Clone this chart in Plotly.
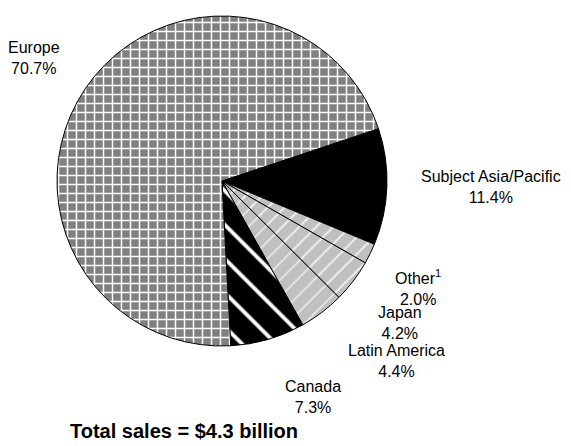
import plotly.graph_objects as go

# Sales share by region, in clockwise order starting after Europe
regions = ["Subject Asia/Pacific", "Other", "Japan", "Latin America", "Canada", "Europe"]
label_text = ["Subject Asia/Pacific", "Other<sup>1</sup>", "Japan", "Latin America", "Canada", "Europe"]
shares = [11.4, 2.0, 4.2, 4.4, 7.3, 70.7]
total_sales = "$4.3 billion"

# Fill styles per slice
bg_colors = ["#000000", "#c0c0c0", "#c0c0c0", "#c0c0c0", "#000000", "#808080"]
fg_colors = ["#000000", "#ffffff", "#ffffff", "#ffffff", "#ffffff", "#ffffff"]
shapes = ["", "/", "/", "/", "\\", "+"]
sizes = [8, 12, 12, 12, 24, 9]
solid = [0.3, 0.12, 0.12, 0.1, 0.16, 0.3]

W, H = 571, 446
cx, cy, r = 222, 181, 165

fig = go.Figure(go.Pie(
    labels=regions,
    values=shares,
    sort=False,
    direction="clockwise",
    rotation=71.5,
    textposition="none",
    hoverinfo="label+percent",
    marker=dict(
        colors=bg_colors,
        line=dict(color="#000000", width=1),
        pattern=dict(shape=shapes, bgcolor=bg_colors, fgcolor=fg_colors,
                     size=sizes, solidity=solid, fillmode="replace"),
    ),
    domain=dict(x=[(cx - r) / W, (cx + r) / W], y=[(H - cy - r) / H, (H - cy + r) / H]),
    showlegend=False,
))

# Outside labels: (x, y) centre of each label in pixels
label_pos = {
    "Subject Asia/Pacific": (491, 187),
    "Other": (418, 287),
    "Japan": (400, 323),
    "Latin America": (396, 361),
    "Canada": (313, 397),
    "Europe": (34, 58),
}
font = dict(family="Arial, Liberation Sans, sans-serif", size=16, color="#000000")
for name, txt, val in zip(regions, label_text, shares):
    x, y = label_pos[name]
    fig.add_annotation(
        x=x / W, y=1 - y / H, xref="paper", yref="paper",
        text=f"{txt}<br>{val:.1f}%", showarrow=False,
        xanchor="center", yanchor="middle", align="center", font=font,
    )

fig.add_annotation(
    x=184 / W, y=1 - 431 / H, xref="paper", yref="paper",
    text=f"<b>Total sales = {total_sales}</b>", showarrow=False,
    xanchor="center", yanchor="middle",
    font=dict(family="Arial, Liberation Sans, sans-serif", size=20, color="#000000"),
)

fig.update_layout(
    width=W, height=H,
    margin=dict(l=0, r=0, t=0, b=0),
    paper_bgcolor="#ffffff",
    plot_bgcolor="#ffffff",
)

fig.write_html("out.html")
